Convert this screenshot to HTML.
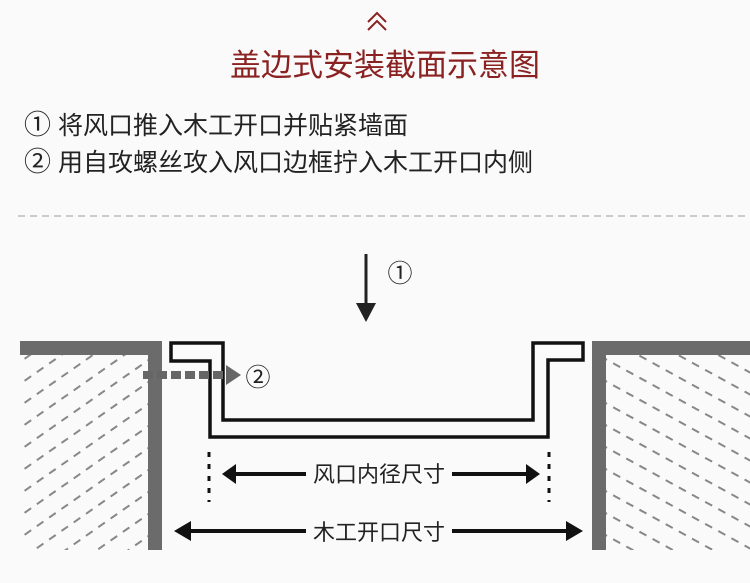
<!DOCTYPE html>
<html><head><meta charset="utf-8"><style>
html,body{margin:0;padding:0;background:#fafafa;width:750px;height:583px;overflow:hidden;}
svg{display:block;}
</style></head><body>
<svg width="750" height="583" viewBox="0 0 750 583" xmlns="http://www.w3.org/2000/svg" font-family="Liberation Sans, Noto Sans CJK SC, sans-serif">
<rect width="750" height="583" fill="#fafafa"/>
<polyline points="368,22 377,13 386,22" fill="none" stroke="#8b2222" stroke-width="2"/>
<polyline points="368,30 377,21 386,30" fill="none" stroke="#8b2222" stroke-width="2"/>
<text x="385" y="76" font-size="31" fill="#8b2222" text-anchor="middle">盖边式安装截面示意图</text>
<text x="24" y="134" font-size="25" fill="#222"><tspan font-size="27">①</tspan> 将风口推入木工开口并贴紧墙面</text>
<text x="24" y="171" font-size="25" fill="#222"><tspan font-size="27">②</tspan> 用自攻螺丝攻入风口边框拧入木工开口内侧</text>
<line x1="18" y1="216" x2="745" y2="216" stroke="#bbb" stroke-width="1.5" stroke-dasharray="7,5"/>

<defs>
<clipPath id="cl"><rect x="20" y="354" width="128" height="196"/></clipPath>
<clipPath id="cr"><rect x="606" y="354" width="144" height="196"/></clipPath>
</defs>
<g clip-path="url(#cl)" stroke="#888" stroke-width="2" stroke-dasharray="8,7">
<line x1="0" y1="354" x2="170" y2="235"/><line x1="0" y1="376" x2="170" y2="257"/>
<line x1="0" y1="398" x2="170" y2="279"/><line x1="0" y1="420" x2="170" y2="301"/>
<line x1="0" y1="442" x2="170" y2="323"/><line x1="0" y1="464" x2="170" y2="345"/>
<line x1="0" y1="486" x2="170" y2="367"/><line x1="0" y1="508" x2="170" y2="389"/>
<line x1="0" y1="530" x2="170" y2="411"/><line x1="0" y1="552" x2="170" y2="433"/>
<line x1="0" y1="574" x2="170" y2="455"/><line x1="0" y1="596" x2="170" y2="477"/>
<line x1="0" y1="618" x2="170" y2="499"/><line x1="0" y1="640" x2="170" y2="521"/>
<line x1="0" y1="662" x2="170" y2="543"/><line x1="0" y1="684" x2="170" y2="565"/>
</g>
<g clip-path="url(#cr)" stroke="#888" stroke-width="2" stroke-dasharray="8,7">
<line x1="600" y1="246" x2="760" y2="334"/><line x1="600" y1="268" x2="760" y2="356"/>
<line x1="600" y1="290" x2="760" y2="378"/><line x1="600" y1="312" x2="760" y2="400"/>
<line x1="600" y1="334" x2="760" y2="422"/><line x1="600" y1="356" x2="760" y2="444"/>
<line x1="600" y1="378" x2="760" y2="466"/><line x1="600" y1="400" x2="760" y2="488"/>
<line x1="600" y1="422" x2="760" y2="510"/><line x1="600" y1="444" x2="760" y2="532"/>
<line x1="600" y1="466" x2="760" y2="554"/><line x1="600" y1="488" x2="760" y2="576"/>
<line x1="600" y1="510" x2="760" y2="598"/><line x1="600" y1="532" x2="760" y2="620"/>
</g>
<path d="M20,341 H162 V550 H148 V355 H20 Z" fill="#6b6b6b"/>
<path d="M592,341 H750 V355 H606 V550 H592 Z" fill="#6b6b6b"/>
<path d="M171,343 H223 V420 H533 V343 H583 V360 H548 V437 H210 V361 H171 Z" fill="#fafafa" stroke="#111" stroke-width="3.5"/>
<line x1="143" y1="375" x2="230" y2="375" stroke="#666" stroke-width="8" stroke-dasharray="10,4"/>
<polygon points="226,365 241,375 226,385" fill="#666"/>
<text x="258" y="386" font-size="25" fill="#222" text-anchor="middle">②</text>
<line x1="366" y1="254" x2="366" y2="306" stroke="#222" stroke-width="3"/>
<polygon points="356,303 376,303 366,322" fill="#222"/>
<text x="400" y="282" font-size="25" fill="#222" text-anchor="middle">①</text>
<line x1="209" y1="452" x2="209" y2="502" stroke="#111" stroke-width="3" stroke-dasharray="5,7"/>
<line x1="549" y1="452" x2="549" y2="502" stroke="#111" stroke-width="3" stroke-dasharray="5,7"/>
<line x1="232" y1="474" x2="306" y2="474" stroke="#111" stroke-width="4"/>
<polygon points="222,474 236,464 236,484" fill="#111"/>
<line x1="452" y1="474" x2="530" y2="474" stroke="#111" stroke-width="4"/>
<polygon points="540,474 526,464 526,484" fill="#111"/>
<text x="379" y="482" font-size="22" fill="#222" text-anchor="middle">风口内径尺寸</text>
<line x1="185" y1="531" x2="306" y2="531" stroke="#111" stroke-width="4"/>
<polygon points="174,531 191,521 191,541" fill="#111"/>
<line x1="452" y1="531" x2="572" y2="531" stroke="#111" stroke-width="4"/>
<polygon points="583,531 566,521 566,541" fill="#111"/>
<text x="379" y="540" font-size="22" fill="#222" text-anchor="middle">木工开口尺寸</text>
</svg>
</body></html>
